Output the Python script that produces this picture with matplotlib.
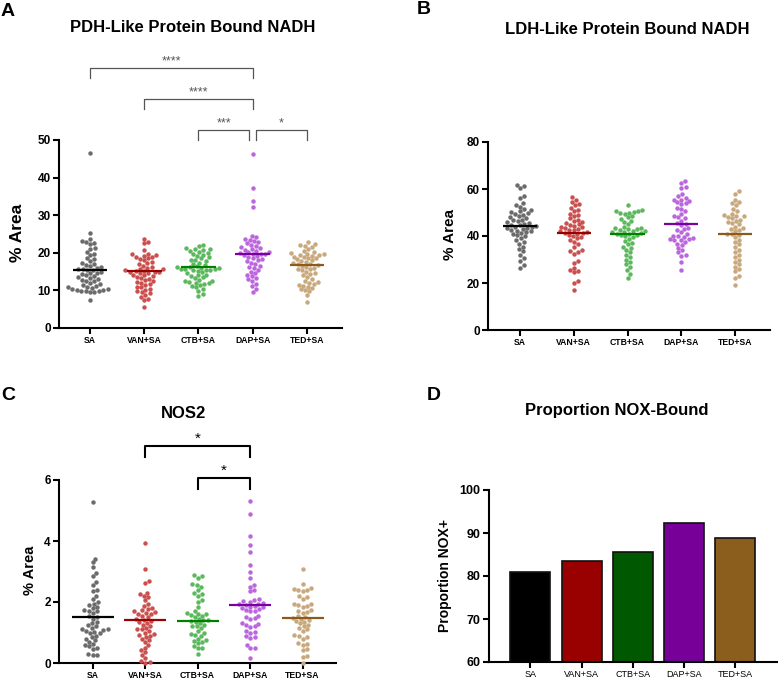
import numpy as np
import matplotlib
matplotlib.use('Agg')
import matplotlib.pyplot as plt

plt.rcParams['font.family'] = ['Liberation Sans', 'DejaVu Sans']

groups = ['SA', 'VAN+SA', 'CTB+SA', 'DAP+SA', 'TED+SA']
dot_colors = ['#6b6b6b', '#c9504f', '#5cb85c', '#bb66dd', '#c8a87c']
line_colors = ['#000000', '#990000', '#008000', '#7a00a0', '#8b5a1e']
bar_colors = ['#000000', '#990000', '#005800', '#770099', '#8b5e1e']

# A: PDH-like protein bound NADH (% area)
pdh_sa = [46.6, 25.3, 23.6, 23.2, 23.0, 22.6, 22.3, 21.3, 20.9, 20.2, 19.7, 19.4, 18.6, 18.4,
          17.8, 17.4, 17.0, 16.8, 16.5, 16.2, 16.0, 15.8, 15.6, 15.5, 15.3, 15.0, 14.7, 14.5,
          14.3, 14.0, 13.8, 13.6, 13.3, 13.0, 12.8, 12.6, 12.4, 12.0, 11.6, 11.4, 11.2, 11.0,
          10.8, 10.7, 10.5, 10.3, 10.0, 9.9, 9.8, 9.7, 9.6, 9.8, 10.2, 7.5]
pdh_van = [23.7, 23.0, 22.5, 20.8, 19.8, 19.6, 19.4, 19.2, 19.0, 18.9, 18.6, 18.3, 18.0, 17.6,
           17.2, 17.0, 16.6, 16.3, 16.0, 15.8, 15.6, 15.4, 15.2, 15.1, 15.0, 15.0, 14.9, 14.7,
           14.5, 14.2, 14.0, 13.8, 13.5, 13.2, 13.0, 12.7, 12.4, 12.2, 12.0, 11.7, 11.4, 11.0,
           10.8, 10.5, 10.2, 9.8, 9.5, 9.2, 8.8, 8.3, 7.8, 7.4, 5.7]
pdh_ctb = [22.0, 21.7, 21.3, 21.0, 20.9, 20.8, 20.5, 20.3, 20.0, 19.8, 19.5, 19.2, 18.8, 18.5,
           18.2, 18.0, 17.8, 17.4, 17.0, 16.7, 16.4, 16.2, 16.1, 16.0, 15.9, 15.8, 15.7, 15.6,
           15.5, 15.4, 15.3, 15.2, 14.8, 14.5, 14.2, 14.0, 13.8, 13.5, 13.2, 12.8, 12.6, 12.4,
           12.2, 12.0, 11.9, 11.8, 11.5, 11.2, 10.8, 10.3, 9.8, 9.0, 8.5]
pdh_dap = [46.2, 37.3, 33.8, 32.3, 24.5, 24.2, 23.8, 23.5, 23.2, 22.8, 22.5, 22.2, 21.8, 21.5,
           21.2, 21.0, 20.8, 20.5, 20.3, 20.1, 20.0, 19.8, 19.7, 19.6, 19.4, 19.2, 18.9, 18.6,
           18.3, 18.0, 17.7, 17.4, 17.0, 16.6, 16.2, 15.9, 15.5, 15.0, 14.6, 14.2, 13.8, 13.3,
           12.9, 12.5, 11.8, 11.2, 10.5, 9.6]
pdh_ted = [22.8, 22.4, 22.1, 21.9, 21.6, 21.0, 20.6, 20.3, 20.0, 19.8, 19.6, 19.5, 19.4, 19.2,
           19.0, 18.8, 18.6, 18.5, 18.3, 18.0, 17.8, 17.5, 17.2, 17.1, 17.0, 16.8, 16.6, 16.3,
           16.0, 15.8, 15.7, 15.4, 15.0, 14.7, 14.4, 14.0, 13.6, 13.0, 12.4, 12.2, 12.1, 11.8,
           11.5, 11.3, 11.0, 10.7, 10.3, 10.0, 9.8, 8.8, 6.8]
pdh_median = [15.5, 15.1, 16.1, 19.7, 16.8]

# B: LDH-like protein bound NADH (% area)
ldh_sa = [61.8, 61.2, 60.3, 57.0, 56.0, 54.0, 53.0, 52.5, 51.5, 51.0, 50.5, 50.2, 49.8, 49.5,
          49.0, 48.5, 48.0, 47.5, 47.0, 46.6, 46.2, 45.8, 45.5, 45.2, 44.8, 44.5, 44.3, 44.0,
          43.8, 43.5, 43.2, 43.0, 42.6, 42.3, 42.0, 41.6, 41.2, 40.8, 40.3, 39.8, 39.0, 38.2,
          37.5, 36.8, 35.5, 34.5, 33.5, 32.0, 30.5, 29.5, 27.5, 26.5]
ldh_van = [56.5, 55.5, 54.5, 53.5, 53.0, 52.0, 51.0, 50.5, 49.5, 49.0, 48.5, 47.5, 47.0, 46.5,
           46.0, 45.5, 45.0, 44.7, 44.3, 44.0, 43.7, 43.4, 43.0, 42.7, 42.4, 42.0, 41.7, 41.4,
           41.2, 41.0, 40.6, 40.2, 39.5, 39.0, 38.2, 37.5, 36.5, 35.5, 34.0, 33.5, 33.0, 32.5,
           29.5, 28.5, 26.5, 25.5, 25.0, 24.5, 21.0, 20.0, 17.0]
ldh_ctb = [53.0, 51.0, 50.8, 50.5, 50.3, 50.0, 49.8, 49.5, 48.5, 48.0, 47.2, 46.5, 46.0, 45.0,
           44.0, 43.6, 43.3, 43.0, 42.8, 42.5, 42.3, 42.0, 41.8, 41.5, 41.2, 41.0, 40.8, 40.6,
           40.3, 40.0, 39.5, 38.8, 38.0, 37.2, 36.5, 35.5, 34.8, 34.0, 33.0, 32.0, 31.0, 30.0,
           29.0, 28.0, 27.0, 25.5, 24.0, 22.3]
ldh_dap = [63.5, 62.5, 61.0, 60.5, 58.0, 57.0, 56.0, 55.5, 55.5, 55.0, 54.5, 54.0, 53.5, 52.0,
           51.5, 50.5, 49.5, 48.5, 48.0, 47.5, 46.5, 45.5, 45.0, 44.5, 43.5, 43.0, 42.5, 41.5,
           41.0, 40.2, 39.8, 39.5, 39.0, 38.7, 38.6, 38.4, 38.2, 37.5, 36.8, 36.0, 35.0, 34.0,
           33.0, 32.0, 31.5, 28.8, 25.5]
ldh_ted = [59.0, 58.0, 55.5, 54.5, 54.0, 53.0, 51.5, 50.5, 49.5, 49.0, 48.7, 48.3, 48.0, 47.5,
           47.0, 46.5, 46.0, 45.5, 45.0, 44.0, 43.5, 43.0, 42.5, 42.0, 41.0, 40.7, 40.5, 39.5,
           38.5, 37.5, 36.5, 35.5, 34.0, 33.0, 32.0, 31.0, 30.0, 29.0, 28.0, 27.0, 26.0, 25.0,
           23.0, 22.0, 19.0]
ldh_median = [44.4, 41.3, 41.0, 45.1, 40.8]

# C: NOS2 (% area)
nos_sa = [5.27, 3.42, 3.3, 3.15, 2.95, 2.85, 2.65, 2.55, 2.4, 2.35, 2.2, 2.1, 2.0, 1.95, 1.9,
          1.85, 1.8, 1.75, 1.72, 1.7, 1.65, 1.55, 1.5, 1.45, 1.35, 1.3, 1.25, 1.2, 1.15, 1.12,
          1.1, 1.08, 1.05, 1.03, 1.0, 0.98, 0.9, 0.85, 0.8, 0.75, 0.7, 0.62, 0.58, 0.55, 0.5,
          0.45, 0.3, 0.27, 0.25]
nos_van = [3.95, 3.07, 2.7, 2.62, 2.3, 2.25, 2.2, 2.15, 2.05, 1.95, 1.88, 1.8, 1.78, 1.75,
           1.7, 1.68, 1.65, 1.62, 1.6, 1.55, 1.5, 1.45, 1.42, 1.38, 1.35, 1.3, 1.25, 1.2, 1.15,
           1.1, 1.1, 1.05, 1.0, 0.95, 0.92, 0.9, 0.85, 0.8, 0.75, 0.7, 0.6, 0.5, 0.42, 0.35,
           0.25, 0.15, 0.08, 0.02, 0.0]
nos_ctb = [2.9, 2.85, 2.8, 2.6, 2.55, 2.5, 2.4, 2.3, 2.25, 2.2, 2.05, 2.0, 1.85, 1.7, 1.65,
           1.62, 1.6, 1.58, 1.55, 1.5, 1.45, 1.42, 1.4, 1.38, 1.35, 1.3, 1.25, 1.22, 1.2, 1.15,
           1.05, 1.0, 0.95, 0.92, 0.9, 0.8, 0.75, 0.72, 0.68, 0.65, 0.55, 0.5, 0.48, 0.3]
nos_dap = [5.32, 4.9, 4.17, 3.87, 3.63, 3.2, 2.98, 2.78, 2.55, 2.5, 2.4, 2.35, 2.1, 2.05,
           2.02, 2.0, 1.98, 1.95, 1.92, 1.9, 1.88, 1.85, 1.82, 1.8, 1.78, 1.75, 1.72, 1.7,
           1.55, 1.5, 1.48, 1.45, 1.3, 1.28, 1.25, 1.2, 1.18, 1.05, 1.02, 1.0, 0.88, 0.85,
           0.82, 0.6, 0.5, 0.48, 0.15]
nos_ted = [3.07, 2.6, 2.45, 2.42, 2.4, 2.38, 2.35, 2.2, 2.15, 2.1, 1.95, 1.92, 1.9, 1.88,
           1.85, 1.75, 1.7, 1.68, 1.65, 1.55, 1.5, 1.48, 1.45, 1.4, 1.38, 1.35, 1.3, 1.25, 1.2,
           1.15, 1.1, 1.05, 0.92, 0.88, 0.85, 0.8, 0.65, 0.62, 0.6, 0.45, 0.42, 0.22, 0.2, 0.0]
nos_median = [1.52, 1.42, 1.39, 1.90, 1.49]

# D: proportion NOX+
nox_prop = [81.0, 83.4, 85.6, 92.3, 88.9]

W, H = 778, 683
fig = plt.figure(figsize=(W / 100, H / 100), dpi=100)


def px_axes(x0, y0, x1, y1):
    return fig.add_axes([x0 / W, 1 - y1 / H, (x1 - x0) / W, (y1 - y0) / H])


def ftext(x, y, s, **kw):
    fig.text(x / W, 1 - y / H, s, **kw)


def style_axes(ax, xlim, ylim, yticks, bold_x=True, xsize=6.2, ysize=8.5):
    ax.set_xlim(*xlim)
    ax.set_ylim(*ylim)
    ax.set_yticks(yticks)
    ax.set_xticks(range(len(groups)))
    ax.set_xticklabels(groups, fontsize=xsize, fontweight='bold' if bold_x else 'normal')
    for lab in ax.get_yticklabels():
        lab.set_fontweight('bold')
        lab.set_fontsize(ysize)
    for s in ['top', 'right']:
        ax.spines[s].set_visible(False)
    for s in ['left', 'bottom']:
        ax.spines[s].set_linewidth(1.5)
    ax.tick_params(width=1.5, length=4, pad=2)


def swarm(ax, pos, vals, color, d=4.5, ms=3.2):
    # simple beeswarm laid out in pixel space
    vals = np.asarray(vals, float)
    ypx = ax.transData.transform(np.c_[np.zeros_like(vals), vals])[:, 1]
    xunit = ax.transData.transform((1, 0))[0] - ax.transData.transform((0, 0))[0]
    order = np.argsort(ypx)
    placed = []
    xs = np.zeros_like(vals)
    for i in order:
        y = ypx[i]
        cands = [0.0]
        for px, py in placed:
            dy = y - py
            if abs(dy) < d:
                dx = np.sqrt(d * d - dy * dy)
                cands += [px + dx, px - dx]
        cands.sort(key=abs)
        for c in cands:
            if all((c - px) ** 2 + (y - py) ** 2 >= d * d - 1e-6 for px, py in placed):
                break
        placed.append((c, y))
        xs[i] = c
    ax.plot(pos + xs / xunit, vals, 'o', ms=ms, color=color, mec='none', clip_on=False, zorder=3)


def dot_panel(ax, data, medians, half):
    for i, vals in enumerate(data):
        swarm(ax, i, vals, dot_colors[i])
        ax.plot([i - half, i + half], [medians[i], medians[i]], color=line_colors[i],
                lw=1.6, zorder=4, solid_capstyle='butt')


def bracket(ax, x0, x1, y, drop, label, color, lw, fs, gap):
    ax.plot([x0, x0, x1, x1], [y - drop, y, y, y - drop], color=color, lw=lw, clip_on=False)
    ax.text((x0 + x1) / 2, y + gap, label, ha='center', va='bottom', fontsize=fs, color=color)


# Panel A
axA = px_axes(59, 140, 342, 328)
style_axes(axA, (-0.571, 4.645), (0, 50), [0, 10, 20, 30, 40, 50])
dot_panel(axA, [pdh_sa, pdh_van, pdh_ctb, pdh_dap, pdh_ted], pdh_median, 0.32)
bracket(axA, 0, 3, 69.1, 2.7, '****', '#555555', 0.9, 9, 0.1)
bracket(axA, 1, 3, 60.9, 2.7, '****', '#555555', 0.9, 9, 0.1)
bracket(axA, 2, 2.94, 52.7, 2.7, '***', '#555555', 0.9, 9, 0.1)
bracket(axA, 3.06, 4, 52.7, 2.7, '*', '#555555', 0.9, 9, 0.1)

# Panel B
axB = px_axes(488, 142, 770, 330)
style_axes(axB, (-0.595, 4.65), (0, 80), [0, 20, 40, 60, 80])
dot_panel(axB, [ldh_sa, ldh_van, ldh_ctb, ldh_dap, ldh_ted], ldh_median, 0.32)

# Panel C
axC = px_axes(59, 480, 336, 663)
style_axes(axC, (-0.64, 4.636), (0, 6), [0, 2, 4, 6])
dot_panel(axC, [nos_sa, nos_van, nos_ctb, nos_dap, nos_ted], nos_median, 0.4)
bracket(axC, 1, 3, 7.11, 0.36, '*', '#000000', 1.5, 11, 0.0)
bracket(axC, 2, 3, 6.07, 0.36, '*', '#000000', 1.5, 11, 0.0)

# Panel D
axD = px_axes(489, 490, 777, 662)
style_axes(axD, (-0.806, 4.81), (60, 100), [60, 70, 80, 90, 100], bold_x=False, xsize=6.5, ysize=9)
axD.bar(range(len(groups)), np.array(nox_prop) - 60, bottom=60, width=0.78,
        color=bar_colors, edgecolor='#111111', linewidth=1.2)

# titles, y labels and panel letters
for x, y, s in [(193, 28, 'PDH-Like Protein Bound NADH'), (627, 29, 'LDH-Like Protein Bound NADH'),
                (183, 413, 'NOS2'), (617, 411, 'Proportion NOX-Bound')]:
    ftext(x, y, s, ha='center', va='center', fontsize=12, fontweight='bold')
for x, y, s, fs in [(18, 233, '% Area', 12.5), (450, 235, '% Area', 11),
                    (30, 570, '% Area', 10.5), (445, 575, 'Proportion NOX+', 10)]:
    ftext(x, y, s, ha='center', va='center', rotation=90, fontsize=fs, fontweight='bold')
for x, y, s in [(8, 12, 'A'), (424, 9, 'B'), (8, 395, 'C'), (434, 395, 'D')]:
    ftext(x, y, s, ha='center', va='center', fontsize=14, fontweight='bold')

fig.savefig('out.png', dpi=100)
